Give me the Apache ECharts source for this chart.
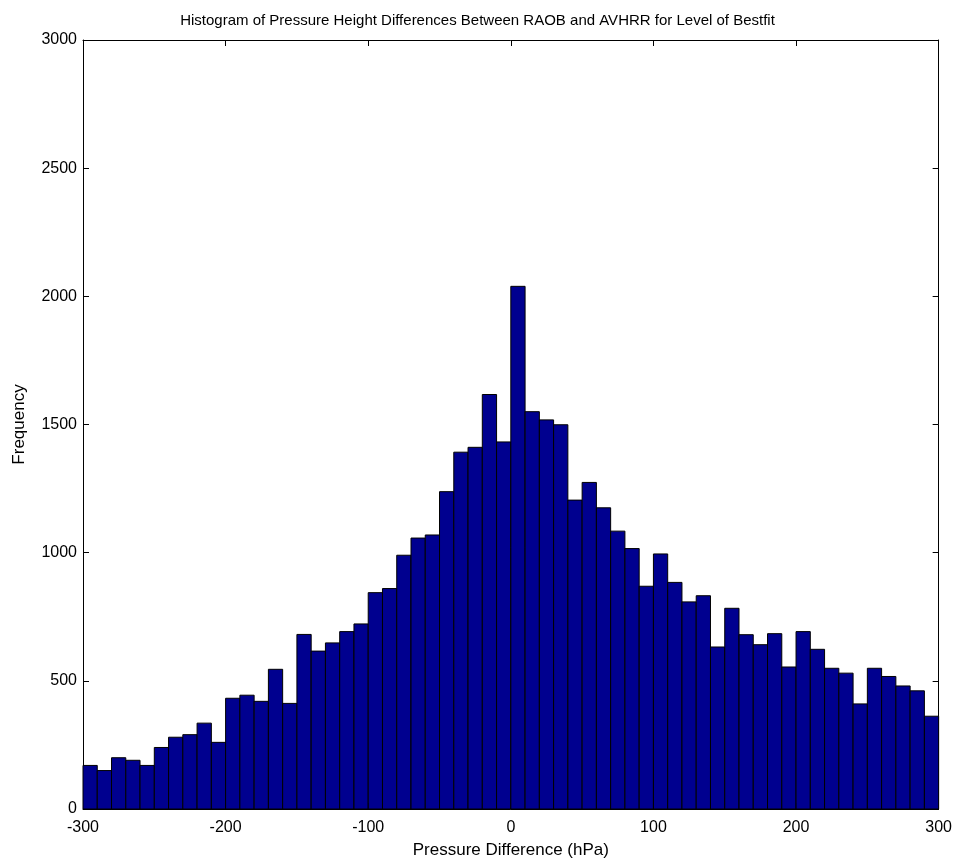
<!DOCTYPE html>
<html>
<head>
<meta charset="utf-8">
<title>Histogram of Pressure Height Differences</title>
<script src="https://cdn.jsdelivr.net/npm/echarts@6/dist/echarts.min.js"></script>
<style>
  html, body { margin: 0; padding: 0; background: #fff; }
  #chart { width: 955px; height: 864px; }
</style>
</head>
<body>
<div id="chart"></div>
<script>
// bins are 10 hPa wide, from -300 to 300
const binStart = -300
const binWidth = 10
const counts = [
  170, 150, 200, 190, 170, 240, 280, 290, 335, 260,
  432, 444, 420, 545, 412, 681, 616, 648, 692, 722,
  844, 860, 990, 1057, 1069, 1238, 1392, 1411, 1617, 1432,
  2039, 1550, 1518, 1499, 1205, 1274, 1175, 1084, 1016, 869,
  995, 884, 808, 832, 632, 783, 680, 641, 684, 554,
  692, 623, 549, 530, 410, 549, 517, 480, 461, 362
]
const xTicks = [-300, -200, -100, 0, 100, 200, 300]
const yTicks = [0, 500, 1000, 1500, 2000, 2500, 3000]

const font = '"Liberation Sans", Arial, sans-serif'
const lineColor = '#000'

const bins = counts.map((c, i) => [binStart + i * binWidth, binStart + (i + 1) * binWidth, c])

const frameAxis = (show, margin) => ({
  axisLine: { show: true, onZero: false, lineStyle: { color: lineColor, width: 1 } },
  axisTick: { show: true, inside: true, length: 6, lineStyle: { color: lineColor } },
  splitLine: { show: false },
  axisLabel: {
    show: show, color: '#000', fontFamily: font, fontSize: 16, margin: margin,
    formatter: v => String(v)
  }
})

const chart = echarts.init(document.getElementById('chart'), null, { renderer: 'canvas' })
chart.setOption({
  animation: false,
  backgroundColor: '#fff',
  title: {
    text: 'Histogram of Pressure Height Differences Between RAOB and AVHRR for Level of Bestfit',
    left: 'center',
    top: 8,
    textStyle: { fontFamily: font, fontSize: 15, fontWeight: 'normal', color: '#000' }
  },
  grid: { left: 83, right: 16, top: 40, bottom: 54 },
  xAxis: [
    Object.assign(frameAxis(true, 11), {
      type: 'value', min: xTicks[0], max: xTicks[xTicks.length - 1], interval: 100,
      position: 'bottom',
      name: 'Pressure Difference (hPa)', nameLocation: 'middle', nameGap: 33,
      nameTextStyle: { fontFamily: font, fontSize: 17, color: '#000' }
    }),
    Object.assign(frameAxis(false, 8), {
      type: 'value', min: xTicks[0], max: xTicks[xTicks.length - 1], interval: 100,
      position: 'top'
    })
  ],
  yAxis: [
    Object.assign(frameAxis(true, 6), {
      type: 'value', min: yTicks[0], max: yTicks[yTicks.length - 1], interval: 500,
      position: 'left',
      name: 'Frequency', nameLocation: 'middle', nameGap: 55,
      nameTextStyle: { fontFamily: font, fontSize: 17, color: '#000' }
    }),
    Object.assign(frameAxis(false, 8), {
      type: 'value', min: yTicks[0], max: yTicks[yTicks.length - 1], interval: 500,
      position: 'right'
    })
  ],
  series: [{
    type: 'custom',
    xAxisIndex: 0,
    yAxisIndex: 0,
    data: bins,
    renderItem: function (params, api) {
      const p0 = api.coord([api.value(0), 0])
      const p1 = api.coord([api.value(1), api.value(2)])
      return {
        type: 'rect',
        shape: { x: p0[0], y: p1[1], width: p1[0] - p0[0], height: p0[1] - p1[1] },
        style: { fill: '#00008F', stroke: '#000', lineWidth: 1 }
      }
    },
    encode: { x: [0, 1], y: 2 }
  }]
})
</script>
</body>
</html>
